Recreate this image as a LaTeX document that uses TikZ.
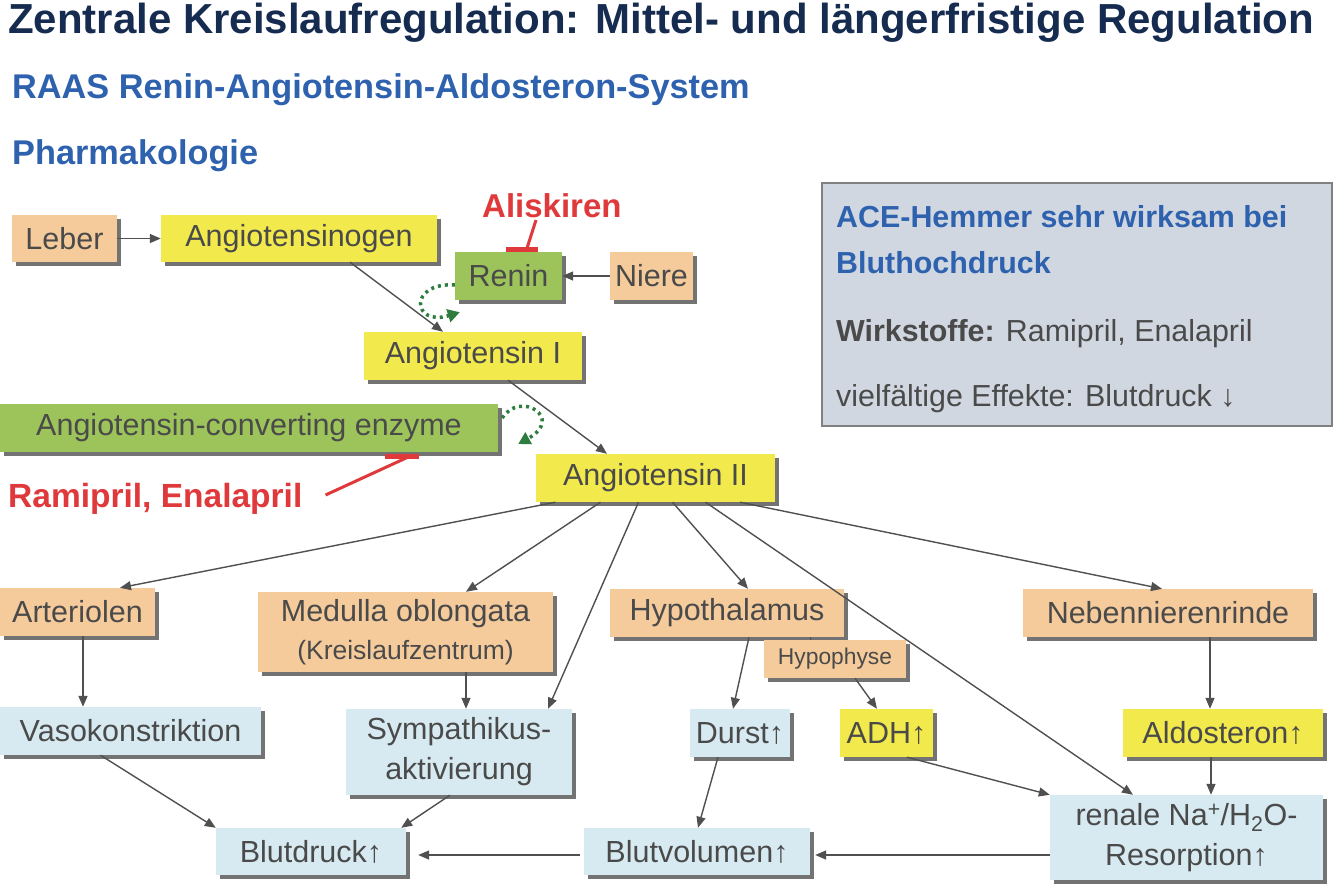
\documentclass[tikz,border=0pt]{standalone}
\usepackage{fontspec}
\setmainfont{Liberation Sans}
\usetikzlibrary{arrows.meta,shadows,calc}
\definecolor{peach}{HTML}{F5CB9C}
\definecolor{yel}{HTML}{F2E94C}
\definecolor{grn}{HTML}{9DC45A}
\definecolor{lblue}{HTML}{D7EAF1}
\definecolor{txt}{HTML}{4A4A4A}
\definecolor{navy}{HTML}{152B50}
\definecolor{subblue}{HTML}{2E62AE}
\definecolor{inhred}{HTML}{E0393B}
\definecolor{dgreen}{HTML}{2E7D3E}
\definecolor{linec}{HTML}{505050}
\definecolor{infobg}{HTML}{D0D7E0}
\begin{document}
\begin{tikzpicture}[x=1pt,y=-1pt,
  bx/.style={rectangle, inner sep=0pt, text=txt, align=center,
    font=\fontsize{30.5}{35}\selectfont,
    drop shadow={shadow xshift=4pt,shadow yshift=-4pt,fill=black!55,opacity=1}},
  pe/.style={bx, fill=peach},
  ye/.style={bx, fill=yel},
  gr/.style={bx, fill=grn},
  lb/.style={bx, fill=lblue},
  arr/.style={draw=linec, line width=1.4pt, -{Triangle[length=11pt,width=9pt]}},
  dotarr/.style={draw=dgreen, line width=3.5pt, dash pattern=on 3pt off 4pt,
    -{Triangle[length=12pt,width=13pt]}},
  inh/.style={draw=inhred, line width=3pt},
  inhbar/.style={draw=inhred, line width=5pt},
  lbl/.style={inner sep=0pt, anchor=base west},
]
\fill[white] (0,0) rectangle (1334,886);
\useasboundingbox (0,0) rectangle (1334,886);

% titles
\node[lbl, text=navy, font=\bfseries\fontsize{42}{48}\selectfont] (title) at (8,34) {Zentrale Kreislaufregulation: Mittel- und längerfristige Regulation};
\node[lbl, text=subblue, font=\bfseries\fontsize{34.3}{40}\selectfont] (sub1) at (12,98) {RAAS Renin-Angiotensin-Aldosteron-System};
\node[lbl, text=subblue, font=\bfseries\fontsize{34.3}{40}\selectfont] (sub2) at (12,164) {Pharmakologie};

% info box
\node[draw=gray, line width=1.5pt, fill=infobg, minimum width=510pt, minimum height=243pt, inner sep=0pt] (info) at (1077,304.5) {};
\node[lbl, text=subblue, font=\bfseries\fontsize{30.4}{35}\selectfont] (i1) at (836,227) {ACE-Hemmer sehr wirksam bei};
\node[lbl, text=subblue, font=\bfseries\fontsize{30.4}{35}\selectfont] (i2) at (836,273) {Bluthochdruck};
\node[lbl, text=txt, font=\fontsize{30.4}{35}\selectfont] (i3) at (836,341) {\textbf{Wirkstoffe:} Ramipril, Enalapril};
\node[lbl, text=txt, font=\fontsize{30.4}{35}\selectfont] (i4) at (836,406) {vielfältige Effekte: Blutdruck ↓};

% nodes
\node[pe, minimum width=105pt, minimum height=47pt] (leber) at (64.5,238.5) {Leber};
\node[ye, minimum width=276pt, minimum height=47pt] (agen) at (299,238.5) {Angiotensinogen};
\node[gr, minimum width=107pt, minimum height=48pt] (renin) at (508.5,276) {Renin};
\node[pe, minimum width=83pt, minimum height=48pt] (niere) at (651.5,276) {Niere};
\node[ye, minimum width=218pt, minimum height=48pt] (ang1) at (473,356) {Angiotensin I};
\node[gr, minimum width=498pt, minimum height=48pt] (ace) at (249,428) {Angiotensin-converting enzyme};
\node[ye, minimum width=239pt, minimum height=48pt] (ang2) at (655.5,478) {Angiotensin II};

\node[pe, minimum width=155pt, minimum height=48pt] (art) at (77.5,612) {Arteriolen};
\node[pe, minimum width=295pt, minimum height=80pt, font=\fontsize{30.5}{38}\selectfont] (med) at (405.5,632) {Medulla oblongata\\{\fontsize{26.5}{30}\selectfont (Kreislaufzentrum)}};
\node[pe, minimum width=234pt, minimum height=48pt] (hyp) at (727,613) {Hypothalamus};
\node[pe, minimum width=142pt, minimum height=38pt, font=\fontsize{22.8}{26}\selectfont] (hypo) at (835,659) {Hypophyse};
\node[pe, minimum width=290pt, minimum height=48pt] (neb) at (1168,613) {Nebennierenrinde};

\node[lb, minimum width=261pt, minimum height=48pt] (vaso) at (130.5,731) {Vasokonstriktion};
\node[lb, minimum width=226pt, minimum height=86pt, font=\fontsize{30.5}{40}\selectfont] (symp) at (459,752) {Sympathikus-\\aktivierung};
\node[lb, minimum width=100pt, minimum height=48pt] (durst) at (740,733) {Durst↑};
\node[ye, minimum width=93pt, minimum height=48pt] (adh) at (886.5,733) {ADH↑};
\node[ye, minimum width=200pt, minimum height=48pt] (aldo) at (1223,733) {Aldosteron↑};

\node[lb, minimum width=190pt, minimum height=47pt] (bd) at (311,851.5) {Blutdruck↑};
\node[lb, minimum width=226pt, minimum height=47pt] (bv) at (697,851.5) {Blutvolumen↑};
\node[lb, minimum width=273pt, minimum height=85pt, font=\fontsize{30.5}{40}\selectfont] (ren) at (1186.5,837.5) {renale Na\textsuperscript{+}/H\textsubscript{2}O-\\Resorption↑};

% drug labels
\node[lbl, text=inhred, font=\bfseries\fontsize{33}{40}\selectfont] (al) at (482,217) {Aliskiren};
\node[lbl, text=inhred, font=\bfseries\fontsize{33.5}{40}\selectfont] (ram) at (8,507) {Ramipril, Enalapril};

% arrows
\draw[arr] (leber) -- (agen);
\draw[arr] ([xshift=51pt]agen.south) -- ([xshift=-30pt]ang1.north);
\draw[arr] (niere) -- (renin);
\draw[arr] ([xshift=35pt]ang1.south) -- ([xshift=-48.5pt]ang2.north);

\draw[arr] ([xshift=-100pt]ang2.south) -- ([xshift=42.5pt]art.north);
\draw[arr] ([xshift=-55pt]ang2.south) -- ([xshift=60.5pt]med.north);
\draw[arr] ([xshift=-17pt]ang2.south) -- ([xshift=89pt]symp.north);
\draw[arr] ([xshift=17pt]ang2.south) -- ([xshift=21pt]hyp.north);
\draw[arr] ([xshift=50pt]ang2.south) -- ([xshift=-53.5pt]ren.north);
\draw[arr] ([xshift=84.5pt]ang2.south) -- ([xshift=-6pt]neb.north);

\draw[arr] ([xshift=5.5pt]art.south) -- ([xshift=-47.5pt]vaso.north);
\draw[arr] ([xshift=60.5pt]med.south) -- ([xshift=7pt]symp.north);
\draw[arr] ([xshift=22pt]hyp.south) -- ([xshift=-7pt]durst.north);
\draw[draw=linec, line width=1pt] ([xshift=83pt]hyp.south) -- ([xshift=-24pt]hypo.north);
\draw[arr] ([xshift=20pt]hypo.south) -- ([xshift=-9.5pt]adh.north);
\draw[arr] ([xshift=42pt]neb.south) -- ([xshift=-13pt]aldo.north);
\draw[arr] ([xshift=-12pt]aldo.south) -- ([xshift=24.5pt]ren.north);
\draw[arr] ([xshift=20.5pt]adh.south) -- (ren.north west);
\draw[arr] ([xshift=-22pt]durst.south) -- ([xshift=1pt]bv.north);
\draw[arr] ([yshift=-17.5pt]ren.west) -- ([xshift=5pt,yshift=-3.5pt]bv.east);
\draw[arr] ([xshift=-4pt,yshift=-3.5pt]bv.west) -- ([xshift=12pt,yshift=-3.5pt]bd.east);
\draw[arr] ([xshift=-30pt]vaso.south) -- (bd.north west);
\draw[arr] ([xshift=-9pt]symp.south) -- ([xshift=-5pt]bd.north east);

% dotted feedback arrows
\draw[dotarr] ([yshift=-9pt]renin.west) .. controls (408,282) and (412,327) .. ([xshift=5pt,yshift=-12pt]renin.south west);
\draw[dotarr] ([xshift=4pt,yshift=10pt]ace.east) .. controls (520,390) and (565,418) .. ([xshift=20pt,yshift=-16pt]ace.east);

% inhibitions
\draw[inh] ([xshift=54pt,yshift=-3pt]al.base west) -- ([xshift=18pt,yshift=2pt]renin.north);
\draw[inhbar] ([xshift=-3pt,yshift=2pt]renin.north) -- ([xshift=29pt,yshift=2pt]renin.north);
\draw[inh] ([xshift=23pt,yshift=12pt]ram.base east) -- ([xshift=161pt,yshift=-4pt]ace.south);
\draw[inhbar] ([xshift=136pt,yshift=-4pt]ace.south) -- ([xshift=170pt,yshift=-4pt]ace.south);
\end{tikzpicture}
\end{document}
